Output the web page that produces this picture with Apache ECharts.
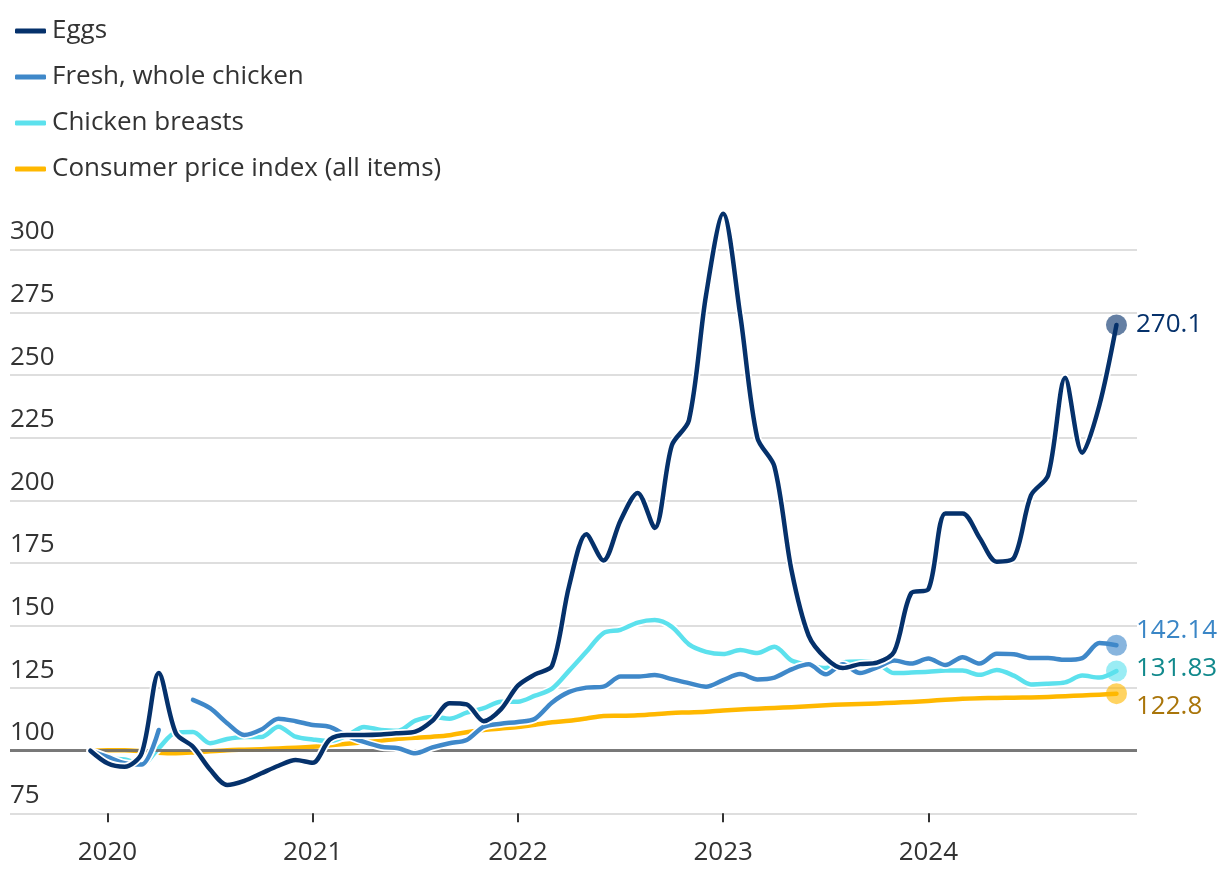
<!DOCTYPE html>
<html><head><meta charset="utf-8">
<script src="https://cdn.jsdelivr.net/npm/echarts@6/dist/echarts.min.js"></script>
<style>html,body{margin:0;padding:0;background:#fff}#c{width:1220px;height:882px}</style>
</head><body><div id="c"></div>
<script>
const months = ['2019-12',
 '2020-01','2020-02','2020-03','2020-04','2020-05','2020-06','2020-07','2020-08','2020-09','2020-10','2020-11','2020-12',
 '2021-01','2021-02','2021-03','2021-04','2021-05','2021-06','2021-07','2021-08','2021-09','2021-10','2021-11','2021-12',
 '2022-01','2022-02','2022-03','2022-04','2022-05','2022-06','2022-07','2022-08','2022-09','2022-10','2022-11','2022-12',
 '2023-01','2023-02','2023-03','2023-04','2023-05','2023-06','2023-07','2023-08','2023-09','2023-10','2023-11','2023-12',
 '2024-01','2024-02','2024-03','2024-04','2024-05','2024-06','2024-07','2024-08','2024-09','2024-10','2024-11','2024-12'];

const yearTicks = ['2020','2021','2022','2023','2024'];

const eggs = [100,
 95,93.6,99,131,107,101.6,92.5,86.3,88,91,94,96.3,
 95.2,104.5,106.3,106.3,106.5,107,107.6,112,119,118.5,111.8,116.5,
 126,130.5,134,166,186.5,176,192,203,189,222,232,282,
 314.5,274,225,213.5,172,146,137,133,134.6,135.2,139.5,163,
 164.5,194.8,194.8,185,175.5,177,202,210,249,219,238,270.1];

const wholeChicken = [100,
 97.5,95,94.5,108.3,null,120.3,117,111,106.3,108.5,112.8,111.8,
 110.3,109.5,106,103.5,101.6,101,99,101.3,103,104.3,109.6,110.8,
 111.5,112.8,119.3,123.5,125.2,125.6,129.6,129.6,130.2,128.6,127,125.6,
 128.2,130.6,128.5,129.2,132.5,134.5,130.5,134.5,131,133.3,136,134.8,
 136.8,134.2,137.3,134.8,138.7,138.5,137,137,136.3,137,143,142.14];

const chickenBreasts = [100,
 97,96.5,94.5,101,107.3,107.5,103,104.7,105.5,105.5,109.6,105.6,
 104.5,103.8,106,109.5,108.3,108,112,113.5,112.8,115.2,117,119.6,
 119.6,122,124.8,132,139.5,147,148.3,151.2,152.2,149.5,142.5,139.5,
 138.6,140.2,139,141.5,136,134.3,133,135.2,135.6,135,131,131.2,
 131.5,132,132,130.3,132.2,130,126.5,126.8,127.3,130,129.2,131.83];

const cpi = [100,
 100.2,100.2,99.8,99.2,99,99.3,99.8,100.2,100.4,100.6,100.9,101.2,
 101.6,102.2,102.8,103.4,104,104.8,105.2,105.6,106.2,107.4,108.3,108.9,
 109.5,110.4,111.4,112,112.9,113.9,114,114.2,114.6,115.1,115.3,115.6,
 116.1,116.5,116.8,117.1,117.4,117.8,118.2,118.5,118.7,118.9,119.2,119.5,
 119.9,120.4,120.8,121,121.1,121.2,121.3,121.5,121.8,122.1,122.4,122.8];

const seriesNames = ['Eggs','Fresh, whole chicken','Chicken breasts','Consumer price index (all items)'];

function monthIndex(s){ const p = s.split('-').map(Number); return (p[0]-2020)*12 + (p[1]-1); }
const xs = months.map(monthIndex);
const tickVals = yearTicks.map(y => (Number(y)-2020)*12);
function pairs(arr){ return arr.map((v,i) => [xs[i], v]); }

const FONT = 'Open Sans';
const FS = 26;
const C = {eggs:'#05316b', whole:'#3f88c9', breast:'#5ce1ed', cpi:'#ffb800'};
const LC = {eggs:'#05316b', whole:'#3a86c6', breast:'#11898c', cpi:'#a9750a'};

function line(name, arr, color, z){
  return {type:'line', name:name, data:pairs(arr), smooth:0.3, symbol:'none', connectNulls:false,
    lineStyle:{width:4.5, color:color, cap:'round', join:'round'}, itemStyle:{color:color}, z:z, silent:true};
}
function halo(arr, z){
  return {type:'line', name:'halo'+z, data:pairs(arr), smooth:0.3, symbol:'none', connectNulls:false,
    lineStyle:{width:8, color:'#ffffff', cap:'round'}, itemStyle:{color:'#fff'}, z:z, silent:true};
}
function endDot(name, arr, color, labelColor, off){
  const last = arr.length-1;
  return {type:'scatter', name:name+'-end', data:[[xs[last], arr[last]]], symbolSize:21, z:20, silent:true,
    itemStyle:{color:color, opacity:0.62},
    label:{show:true, position:'right', distance:9, offset:[0,off], formatter:p=>String(p.value[1]),
      fontFamily:FONT, fontSize:FS, color:labelColor, opacity:1}};
}

const cpiSeries = line(seriesNames[3], cpi, C.cpi, 2);
cpiSeries.markLine = {silent:true, symbol:'none', label:{show:false},
  lineStyle:{color:'#6d6d6d', width:3, type:'solid', opacity:0.9}, data:[{yAxis:100}]};

const chart = echarts.init(document.getElementById('c'), null, {renderer:'canvas'});
chart.setOption({
  animation:false,
  textStyle:{fontFamily:FONT},
  grid:{left:10, right:83, top:200, bottom:68.7, containLabel:false, outerBoundsMode:'none'},
  legend:{data:seriesNames, orient:'vertical', left:10, top:11, itemWidth:31, itemHeight:5, itemGap:16,
    icon:'roundRect', selectedMode:false,
    textStyle:{fontFamily:FONT, fontSize:FS, color:'#333', lineHeight:30, padding:[0,0,0,1]}},
  xAxis:{type:'value', min:-5.7, max:60.2,
    axisLine:{show:false}, splitLine:{show:false},
    axisTick:{show:true, customValues:tickVals, length:9, lineStyle:{color:'#333', width:2}},
    axisLabel:{customValues:tickVals, margin:26, fontFamily:FONT, fontSize:FS, color:'#333',
      formatter:v => yearTicks[tickVals.indexOf(v)] || ''}},
  yAxis:{type:'value', min:75, max:320, interval:25,
    axisLine:{show:false}, axisTick:{show:false},
    splitLine:{show:true, showMaxLine:false, lineStyle:{color:'#d3d3d3', width:1.5}},
    axisLabel:{inside:true, margin:0, showMaxLabel:false, verticalAlign:'bottom', align:'left',
      padding:[0,0,5,0], fontFamily:FONT, fontSize:FS, color:'#333'}},
  series:[
    cpiSeries,
    halo(chickenBreasts, 3),
    line(seriesNames[2], chickenBreasts, C.breast, 4),
    halo(wholeChicken, 5),
    line(seriesNames[1], wholeChicken, C.whole, 6),
    halo(eggs, 7),
    line(seriesNames[0], eggs, C.eggs, 8),
    endDot('eggs', eggs, C.eggs, LC.eggs, 0),
    endDot('whole', wholeChicken, C.whole, LC.whole, -15),
    endDot('breast', chickenBreasts, C.breast, LC.breast, -2),
    endDot('cpi', cpi, C.cpi, LC.cpi, 13)
  ]
});
</script></body></html>
